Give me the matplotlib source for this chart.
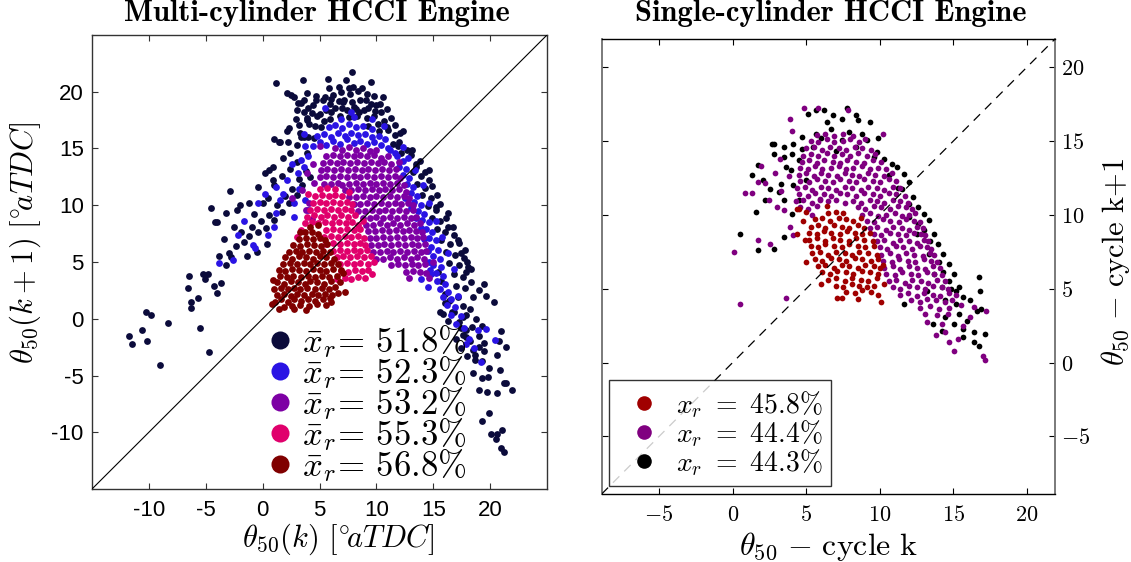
import matplotlib
matplotlib.use('Agg')
import matplotlib.pyplot as plt
from matplotlib.lines import Line2D

plt.rcParams['mathtext.fontset'] = 'cm'
plt.rcParams['lines.scale_dashes'] = False

# ---------------- texts ----------------
left_title = 'Multi-cylinder HCCI Engine'
right_title = 'Single-cylinder HCCI Engine'
left_xlabel = r'$\theta_{50}(k)\ [{}^{\circ}\!aTDC]$'
left_ylabel = r'$\theta_{50}(k+1)\ [{}^{\circ}\!aTDC]$'
right_xlabel = r'$\theta_{50}\ {-}\ \mathrm{cycle\ k}$'
right_ylabel = r'$\theta_{50}\ {-}\ \mathrm{cycle\ k{+}1}$'
left_ticks = [-10, -5, 0, 5, 10, 15, 20]
right_ticks = [-5, 0, 5, 10, 15, 20]
left_names = ['51.8', '52.3', '53.2', '55.3', '56.8']
right_names = ['45.8', '44.4', '44.3']

# ---------------- left panel series (theta50(k), theta50(k+1)) ----------------
L_navy = [
    (2.3,16.8),(2.9,17.6),(3.3,16.4),(3.6,18.2),(4.1,17.2),(4.4,18.8),(4.8,17.9),(5.1,16.9),(5.3,19.3),(5.6,18.4),
    (5.9,17.6),(6.2,19.7),(6.4,18.6),(6.8,17.9),(7.1,19.1),(7.4,18.4),(7.7,19.8),(8.0,18.7),(8.3,17.9),(8.6,19.3),
    (8.9,18.4),(9.2,17.7),(9.5,18.9),(9.8,17.9),(10.1,17.2),(10.4,18.2),(10.7,17.4),(11.0,16.6),(11.3,17.7),(11.6,16.2),
    (12.0,15.6),(12.3,16.5),(12.7,14.9),(4.0,16.0),(3.0,15.3),(2.4,14.6),(1.8,14.2),(3.4,19.0),(6.7,20.4),(8.4,20.1),
    (9.2,19.8),(5.8,20.3),(7.3,21.0),
    (3.6,16.0),(4.5,15.9),(11.5,15.4),(12.2,14.6),(3.2,17.1),(4.6,17.0),(5.4,17.4),(9.3,17.0),(10.2,16.5),(11.9,15.2),
    (3.9,17.7),(5.0,18.0),(6.0,18.2),(7.0,18.6),(7.6,17.8),(8.5,18.2),(9.9,18.3),(10.9,16.9),(3.0,18.4),(4.0,18.6),
    (4.7,19.6),(5.9,18.9),(6.7,19.2),(7.9,19.1),(8.2,18.5),(9.3,18.6),(10.3,18.9),(2.8,19.5),(3.9,19.9),(6.0,19.4),
    (6.9,20.0),(7.6,20.3),(9.8,19.6),(10.6,19.5),
    (13.0,14.4),(13.5,13.6),(13.2,12.9),(13.9,12.6),(13.6,11.9),(14.3,11.5),(14.0,10.9),(14.8,10.6),(14.5,9.9),(15.2,9.6),
    (14.9,8.9),(15.6,8.6),(15.3,7.9),(16.0,7.6),(15.7,6.9),(16.5,6.6),(16.1,5.9),(16.9,5.6),(16.4,4.9),(17.3,4.7),
    (16.8,3.9),(17.6,3.7),(17.0,2.9),(17.8,2.7),(17.2,1.9),(16.4,1.6),(17.6,1.1),(16.8,0.6),(17.9,0.3),(17.3,-0.3),
    (16.3,-0.2),(15.9,0.4),(16.0,2.2),(15.7,3.3),(15.4,4.1),(18.4,-0.7),(17.6,-1.4),(18.2,-2.0),(19.0,-1.5),(18.7,-3.2),
    (19.5,-2.8),(17.9,-1.0),(14.6,12.2),(15.3,10.9),(16.1,8.9),(16.8,7.4),(17.4,5.8),(18.3,4.4),(19.0,2.5),
    (13.8,13.9),(14.3,12.9),(14.9,11.7),(15.6,10.1),(16.3,9.3),(16.7,8.1),(17.2,6.9),(17.8,6.1),(18.0,5.0),(17.9,4.1),
    (18.3,3.2),(18.5,1.9),(18.2,0.9),(18.8,0.0),(19.3,-0.6),(17.0,-1.8),(17.4,-2.6),(18.0,-3.3),
    (-3.0,5.8),(-2.3,6.4),(-1.6,6.8),(-1.9,7.6),(-1.2,7.3),(-0.9,8.1),(-0.4,7.6),(-0.1,8.6),(0.3,8.0),(0.6,9.1),
    (1.0,8.7),(1.3,10.0),(1.7,9.4),(2.0,10.8),(2.3,10.2),(2.6,11.4),(3.0,10.9),(3.2,12.3),(3.5,11.8),(3.8,13.0),
    (4.2,12.5),(0.5,10.6),(1.0,11.8),(1.7,12.6),(2.4,13.2),(3.0,13.8),(3.9,14.6),(-0.8,9.2),(0.0,10.2),(-2.5,8.1),
    (-3.4,7.0),(-1.4,5.5),(-0.5,5.9),(0.4,6.6),(-4.2,8.5),(-2.0,10.0),(0.9,13.4),(2.2,15.6),(1.4,15.6),
    (1.18,20.74),(3.55,21.0),(7.87,21.77),(5.76,21.12),(9.54,20.88),(7.96,20.45),(8.75,20.36),(2.13,19.9),(2.5,19.7),(3.64,19.27),
    (3.08,18.98),(4.65,19.27),(5.44,19.56),(7.18,19.27),(9.07,19.27),(10.0,18.8),(10.96,18.5),(1.03,15.8),(1.5,15.6),(2.13,16.5),
    (3.39,16.0),(3.86,17.5),(4.34,18.1),(11.6,17.07),(12.06,16.33),(13.1,14.9),(14.65,13.1),(13.48,13.4),(0.55,13.1),(0.24,12.8),
    (0.87,12.2),(-0.39,11.6),(-1.18,10.17),(-2.91,11.28),(-4.55,9.72),(-4.02,8.55),(-3.23,9.28),(-2.28,9.58),(-2.76,5.47),(-3.8,5.5),
    (-3.23,4.73),(15.21,9.87),(16.32,8.11),(17.26,6.64),(17.74,5.32),(18.05,4.59),
    (-11.74,-1.49),(-11.49,-2.22),(-10.64,-0.99),(-10.23,0.57),(-9.85,0.33),(-10.16,-1.96),(-9.0,-4.08),(-8.34,-0.40),(-6.54,2.68),(-6.48,3.77),
    (-6.29,1.5),(-6.29,0.98),(-5.69,1.86),(-5.28,3.94),(-5.03,3.47),(-4.81,3.94),(-4.27,2.89),(-4.02,2.3),(-3.7,3.12),(-5.5,-0.79),
    (-4.74,-2.93),(15.62,0.62),(16.63,0.62),(19.47,3.06),(19.63,2.0),(20.35,1.5),(20.98,-1.08),(20.79,-1.93),(21.36,-2.52),(20.57,-3.19),
    (18.46,-4.81),(19.25,-5.25),(19.78,-5.1),(19.94,-4.37),(20.89,-4.52),(21.2,-5.63),(21.36,-5.69),(21.93,-6.28),(19.0,-6.28),(19.69,-6.42),
    (20.57,-6.57),(19.88,-8.33),(19.31,-9.0),(20.04,-10.18),(20.57,-10.18),(20.48,-10.62),(21.05,-9.8),(20.98,-11.42),(21.2,-11.71),(17.42,-0.84),
    (17.89,-1.58),(18.46,-2.75),(18.99,-2.46),(19.47,-2.11),(18.68,-3.63),(19.31,-3.69),(17.58,0.18),(16.0,1.36),(16.47,1.65),
]

L_blue = [
    (4.4,15.2),(5.0,15.6),(5.6,15.3),(6.2,15.7),(6.8,15.4),(7.4,15.8),(8.0,15.5),(8.6,15.7),(9.2,15.4),(9.8,15.6),
    (10.4,15.3),(11.0,15.0),(4.8,16.1),(5.4,16.3),(6.0,16.0),(6.6,16.4),(7.2,16.1),(7.8,16.4),(8.4,16.2),(9.0,16.3),
    (9.6,16.0),(10.2,16.1),(10.8,15.8),(5.8,16.9),(6.4,17.1),(7.0,16.8),(7.6,17.2),(8.2,16.9),(8.8,17.0),(9.6,16.7),
    (6.9,17.6),(8.0,17.8),(11.6,14.6),(11.2,14.9),
    (11.8,14.3),(12.3,13.9),(12.0,13.4),(12.6,13.2),(12.3,12.7),(12.9,12.4),(12.7,11.9),(13.2,11.6),(13.0,11.1),(13.6,10.8),
    (13.3,10.3),(13.9,10.0),(13.7,9.5),(14.2,9.2),(14.0,8.7),(14.6,8.5),(14.4,7.9),(14.9,7.6),(14.6,7.1),(15.2,6.9),
    (14.8,6.3),(15.4,6.1),(15.0,5.5),(15.6,5.3),(15.0,4.7),(15.7,4.6),(15.2,4.0),(15.9,3.8),(15.3,3.3),(16.0,3.1),
    (15.6,2.6),(16.3,2.4),(15.9,1.9),(16.6,1.7),(16.2,1.2),(16.9,1.0),(17.2,2.0),(16.6,0.3),(17.4,0.2),(17.0,-0.5),
    (17.7,-0.8),(16.8,4.4),(16.3,5.8),(15.8,7.2),(15.2,8.6),(14.6,10.2),(14.1,11.8),(13.4,13.1),(12.8,14.2),(13.9,3.5),
    (14.5,2.8),(14.8,3.9),(12.5,10.6),(13.0,9.8),(13.5,8.9),(13.9,8.0),(14.2,7.0),(14.5,6.0),(14.6,5.0),(14.7,4.3),
    (18.1,-1.8),(18.6,-2.6),(19.2,-3.8),(20.4,-1.9),(18.9,-1.0),(17.9,-2.2),(19.6,-0.9),
    (-3.8,4.9),(-2.6,5.2),(-0.86,6.5),(-0.7,6.2),(0.5,7.4),(1.0,8.1),(1.2,9.3),(2.8,9.0),(2.8,10.2),(3.7,10.5),
    (1.2,11.6),(1.8,11.0),(2.1,12.2),(3.1,12.8),(3.6,13.4),(3.7,15.2),(4.0,14.3),(0.2,11.0),(1.5,10.5),(-0.4,10.2),
    (-1.6,8.6),(-2.2,7.4),(3.4,14.0),(2.6,13.6),(4.0,9.6),(3.2,11.4),
    (5.5,18.6),(7.8,18.2),(9.6,17.6),(10.7,17.0),(12.3,15.1),(3.6,16.3),
]

L_purple = [
    (6.4,15.0),(7.0,14.9),(7.6,15.1),(8.2,14.9),(8.8,15.0),(9.4,14.8),(10.0,14.9),
    (5.6,14.3),(6.2,14.4),(6.8,14.3),(7.4,14.4),(8.0,14.3),(8.6,14.4),(9.2,14.3),(9.8,14.4),(10.4,14.2),(11.0,14.3),
    (5.3,13.7),(5.9,13.8),(6.5,13.7),(7.1,13.8),(7.7,13.7),(8.3,13.8),(8.9,13.7),(9.5,13.8),(10.1,13.7),(10.7,13.8),(11.3,13.6),
    (5.1,13.1),(5.7,13.2),(6.3,13.1),(6.9,13.2),(7.5,13.1),(8.1,13.2),(8.7,13.1),(9.3,13.2),(9.9,13.1),(10.5,13.2),(11.1,13.1),(11.7,13.2),
    (5.0,12.5),(5.6,12.6),(6.2,12.5),(6.8,12.6),(7.4,12.5),(8.0,12.6),(8.6,12.5),(9.2,12.6),(9.8,12.5),(10.4,12.6),(11.0,12.5),(11.6,12.6),(12.1,12.4),
    (5.4,11.9),(6.0,11.9),(6.6,12.0),(7.0,11.8),(7.6,11.9),(8.2,12.0),(8.8,11.9),(9.4,12.0),(10.0,11.9),(10.6,12.0),(11.2,11.9),(11.8,12.0),(12.4,11.8),
    (7.2,11.3),(7.8,11.3),(8.4,11.4),(9.0,11.3),(9.6,11.4),(10.2,11.3),(10.8,11.4),(11.4,11.3),(12.0,11.4),(12.6,11.2),
    (7.6,10.7),(8.2,10.7),(8.8,10.8),(9.4,10.7),(10.0,10.8),(10.6,10.7),(11.2,10.8),(11.8,10.7),(12.4,10.8),(12.9,10.6),
    (8.0,10.1),(8.6,10.1),(9.2,10.2),(9.8,10.1),(10.4,10.2),(11.0,10.1),(11.6,10.2),(12.2,10.1),(12.8,10.2),(13.2,10.0),
    (8.4,9.5),(9.0,9.5),(9.6,9.6),(10.2,9.5),(10.8,9.6),(11.4,9.5),(12.0,9.6),(12.6,9.5),(13.2,9.6),
    (8.8,8.9),(9.4,8.9),(10.0,9.0),(10.6,8.9),(11.2,9.0),(11.8,8.9),(12.4,9.0),(13.0,8.9),(13.5,9.0),
    (9.1,8.3),(9.7,8.3),(10.3,8.4),(10.9,8.3),(11.5,8.4),(12.1,8.3),(12.7,8.4),(13.3,8.3),(13.8,8.4),
    (9.3,7.7),(9.9,7.7),(10.5,7.8),(11.1,7.7),(11.7,7.8),(12.3,7.7),(12.9,7.8),(13.5,7.7),(14.0,7.6),
    (9.4,7.1),(10.0,7.1),(10.6,7.2),(11.2,7.1),(11.8,7.2),(12.4,7.1),(13.0,7.2),(13.6,7.1),(14.1,7.2),
    (9.5,6.5),(10.1,6.5),(10.7,6.6),(11.3,6.5),(11.9,6.6),(12.5,6.5),(13.1,6.6),(13.7,6.5),(14.3,6.6),
    (9.7,5.9),(10.3,5.9),(10.9,6.0),(11.5,5.9),(12.1,6.0),(12.7,5.9),(13.3,6.0),(13.9,5.9),(14.4,6.0),
    (10.0,5.3),(10.6,5.3),(11.2,5.4),(11.8,5.3),(12.4,5.4),(13.0,5.3),(13.6,5.4),(14.2,5.3),
    (11.3,4.7),(11.9,4.8),(12.5,4.7),(13.1,4.8),(13.7,4.7),(14.3,4.8),
    (12.6,4.1),(13.2,4.2),(13.8,4.1),(14.4,4.0),
    (3.8,9.6),(4.1,10.2),(4.3,8.8),(3.5,11.3),(4.5,12.0),(3.9,12.8),(4.4,13.6),(2.6,10.6),(12.9,3.6),(14.6,3.6),
    (15.0,5.0),(12.0,13.8),(5.0,15.2),
]

L_pink = [
    (7.2,3.6),(7.8,3.5),(8.4,3.7),(9.0,3.6),
    (6.9,4.2),(7.5,4.1),(8.1,4.3),(8.7,4.2),(9.3,4.3),
    (6.8,4.8),(7.4,4.9),(8.0,4.8),(8.6,4.9),(9.3,4.8),
    (6.5,5.4),(7.1,5.5),(7.7,5.4),(8.3,5.5),(8.9,5.4),(9.5,5.5),
    (6.2,6.0),(6.8,6.1),(7.4,6.0),(8.0,6.1),(8.6,6.0),(9.2,6.1),
    (5.6,6.6),(6.2,6.7),(6.8,6.6),(7.4,6.7),(8.0,6.6),(8.6,6.7),(9.0,6.5),
    (5.4,7.2),(6.0,7.3),(6.6,7.2),(7.2,7.3),(7.8,7.2),(8.4,7.3),(8.9,7.1),
    (3.4,7.8),(5.6,7.8),(6.2,7.9),(6.8,7.8),(7.4,7.9),(8.0,7.8),(8.6,7.9),
    (3.7,8.4),(4.3,8.5),(4.9,8.4),(5.5,8.5),(6.1,8.4),(6.7,8.5),(7.3,8.4),(7.9,8.5),(8.4,8.3),
    (3.9,9.0),(4.5,9.1),(5.1,9.0),(5.7,9.1),(6.3,9.0),(6.9,9.1),(7.5,9.0),(8.1,9.1),
    (4.2,9.6),(4.8,9.7),(5.4,9.6),(6.0,9.7),(6.6,9.6),(7.2,9.7),(7.8,9.6),
    (4.4,10.2),(5.0,10.3),(5.6,10.2),(6.2,10.3),(6.8,10.2),(7.4,10.3),(7.9,10.1),
    (4.6,10.8),(5.2,10.9),(5.8,10.8),(6.4,10.9),(7.0,10.8),
    (5.0,11.4),(5.7,11.5),(6.4,11.4),
    (3.0,7.2),(9.8,5.0),(9.6,3.9),(6.5,3.5),(4.0,11.0),(7.6,11.2),(8.8,8.6),
]

L_red = [
    (1.9,1.0),(2.6,1.1),(3.3,1.2),(4.1,1.1),(4.8,1.3),
    (1.1,1.5),(1.6,1.7),(2.2,1.5),(2.8,1.7),(3.4,1.6),(4.0,1.7),(4.6,1.6),(5.3,1.7),(5.9,1.8),
    (1.3,2.1),(1.9,2.2),(2.5,2.0),(3.0,2.2),(3.6,2.1),(4.3,2.2),(4.9,2.1),(5.5,2.2),(6.1,2.1),(6.6,2.3),
    (1.0,2.6),(1.6,2.7),(2.2,2.6),(2.8,2.7),(3.3,2.6),(3.9,2.7),(4.6,2.6),(5.2,2.7),(5.8,2.6),(6.4,2.8),
    (1.3,3.2),(1.9,3.1),(2.5,3.3),(3.1,3.2),(3.7,3.1),(4.2,3.3),(4.8,3.2),(5.4,3.1),(6.0,3.3),(6.8,3.2),
    (1.5,3.8),(2.1,3.7),(2.7,3.8),(3.4,3.7),(4.0,3.8),(4.6,3.7),(5.2,3.8),(5.8,3.7),(6.5,3.8),
    (1.4,4.3),(2.0,4.2),(2.6,4.4),(3.2,4.3),(3.8,4.2),(4.4,4.4),(5.0,4.3),(5.6,4.2),(6.2,4.4),(6.9,4.3),
    (1.8,4.8),(2.4,4.9),(3.0,4.8),(3.6,4.9),(4.2,4.8),(4.8,4.9),(5.4,4.8),(6.0,4.9),(6.6,4.8),
    (2.0,5.4),(2.6,5.3),(3.2,5.5),(3.8,5.4),(4.4,5.3),(5.0,5.5),(5.6,5.4),(6.3,5.3),
    (2.3,5.9),(2.9,6.0),(3.5,5.9),(4.1,6.0),(4.7,5.9),(5.3,6.0),(5.9,5.9),
    (2.7,6.5),(3.3,6.4),(3.9,6.6),(4.5,6.5),(5.1,6.4),(5.7,6.6),
    (3.2,7.0),(3.8,7.1),(4.4,7.0),(5.0,7.1),(5.5,6.9),
    (3.7,7.6),(4.3,7.6),(4.9,7.5),(4.2,8.1),
    (0.8,1.3),(0.9,3.4),(7.2,2.4),(7.1,4.0),(5.6,1.2),(1.4,0.9),(3.8,0.8),(6.0,1.5),(2.8,0.9),(4.9,8.3),(3.3,7.6),
]

# ---------------- right panel series ----------------
R_black = [
    (5.09,16.85),(5.69,17.08),(6.23,17.12),(6.79,16.74),(7.4,16.51),(8.37,16.74),(8.49,16.4),(9.34,16.29),(7.88,15.61),(6.67,15.84),
    (5.69,15.5),(4.72,15.27),(4.11,14.82),(3.51,14.6),(2.66,14.82),(2.78,14.14),(3.51,13.92),(3.63,13.24),(3.99,13.01),(4.48,13.69),
    (5.45,14.6),(7.4,15.05),(8.37,14.6),(9.1,15.05),(9.82,14.25),(10.31,13.8),(10.8,13.46),(11.16,13.24),(11.65,12.79),(12.01,12.22),
    (11.52,11.77),(12.25,11.2),(12.62,10.53),(12.98,10.08),(13.35,9.62),(12.98,8.95),(13.71,8.72),(13.95,8.05),(14.32,7.37),(14.68,6.69),
    (14.32,6.12),(15.05,6.01),(16.75,5.79),(13.35,7.37),(12.5,8.72),(12.01,9.85),
    (13.71,6.0),(14.68,5.55),(15.41,5.1),(15.65,4.42),(15.17,3.97),(16.14,4.2),(16.63,3.52),(16.87,3.63),(15.41,3.29),(15.05,2.62),
    (15.9,2.84),(15.65,2.28),(16.38,2.05),(15.65,1.71),(17.11,1.94),(16.38,1.37),(16.75,1.15),(14.44,3.07),(13.59,2.62),(14.2,2.16),
    (11.65,3.97),(13.23,4.87),(14.2,5.1),(14.44,4.2),(16.82,4.87),(15.17,4.87),
    (1.32,12.67),(1.69,13.35),(2.05,12.33),(2.54,11.77),(3.14,11.54),(3.51,10.98),(2.17,10.98),(1.56,10.19),(0.47,8.72),(1.73,7.59),
    (2.78,7.7),(3.51,8.5),(4.0,10.08),(4.48,10.98),(3.26,12.11),(4.11,12.0),(4.96,12.33),(2.78,14.82),(4.0,14.14),(4.72,14.48),
    (6.0,15.2),(7.0,14.3),(8.8,15.5),(9.6,13.9),(10.6,12.7),(11.2,11.8),(12.0,10.7),(12.6,9.4),(13.4,8.2),(14.0,6.8),
    (14.8,5.0),(7.8,17.2),(6.4,16.3),(9.9,15.2),
]

R_purple = [
    (5.7,15.4),(6.3,15.5),(6.9,15.3),(7.5,15.5),(8.2,15.3),
    (5.3,15.0),(5.8,14.9),(6.4,15.1),(6.9,14.9),(7.5,15.0),(8.0,15.1),(8.6,14.9),(9.0,15.1),
    (5.0,14.5),(5.5,14.6),(6.1,14.4),(6.6,14.6),(7.2,14.5),(7.7,14.4),(8.3,14.6),(8.8,14.5),(9.4,14.4),
    (4.8,14.0),(5.3,14.1),(5.8,14.0),(6.4,14.2),(6.9,14.0),(7.4,14.1),(8.0,14.0),(8.5,14.2),(9.1,14.0),(9.7,14.1),
    (4.7,13.6),(5.2,13.7),(5.7,13.5),(6.2,13.7),(6.8,13.6),(7.3,13.5),(7.8,13.7),(8.4,13.6),(8.9,13.5),(9.5,13.7),(10.1,13.6),
    (4.6,13.2),(5.1,13.1),(5.6,13.3),(6.1,13.1),(6.7,13.2),(7.2,13.3),(7.7,13.1),(8.2,13.2),(8.8,13.3),(9.3,13.1),(9.9,13.2),(10.4,13.1),
    (4.5,12.7),(5.0,12.8),(5.5,12.6),(6.0,12.8),(6.5,12.7),(7.1,12.6),(7.6,12.8),(8.1,12.7),(8.6,12.6),(9.2,12.8),(9.7,12.7),(10.3,12.6),(10.8,12.8),
    (4.6,12.3),(5.2,12.2),(5.7,12.4),(6.3,12.3),(6.8,12.2),(7.3,12.4),(7.9,12.3),(8.4,12.2),(8.9,12.4),(9.5,12.3),(10.0,12.2),(10.6,12.4),(11.1,12.3),
    (4.4,11.8),(4.9,11.9),(5.4,11.7),(6.0,11.9),(6.5,11.8),(7.0,11.7),(7.6,11.9),(8.1,11.8),(8.7,11.7),(9.2,11.9),(9.8,11.8),(10.3,11.7),(10.9,11.9),(11.4,11.8),
    (4.5,11.4),(5.1,11.3),(5.6,11.5),(6.2,11.4),(6.7,11.3),(7.3,11.5),(7.8,11.4),(8.4,11.3),(8.9,11.5),(9.5,11.4),(10.0,11.3),(10.6,11.5),(11.1,11.4),(11.7,11.3),
    (4.3,10.9),(4.8,11.0),(5.4,10.8),(5.9,11.0),(6.5,10.9),(7.0,11.0),(7.6,10.8),(8.2,10.9),(8.7,10.8),(9.3,11.0),(9.8,10.9),(10.3,10.8),(10.9,11.0),(11.4,10.9),(11.9,10.8),
    (4.6,10.5),(5.1,10.4),(5.7,10.6),(8.5,10.5),(9.0,10.4),(9.6,10.6),(10.1,10.5),(10.7,10.4),(11.2,10.6),(11.8,10.5),(12.2,10.4),
    (5.4,10.0),(8.8,10.0),(9.3,10.1),(9.9,9.9),(10.4,10.0),(11.0,10.1),(11.5,9.9),(12.0,10.0),(12.4,10.1),
    (9.1,9.6),(9.6,9.5),(10.2,9.7),(10.7,9.6),(11.3,9.5),(11.8,9.7),(12.3,9.6),(12.7,9.5),
    (9.3,9.1),(9.8,9.2),(10.4,9.0),(10.9,9.2),(11.5,9.1),(12.0,9.0),(12.5,9.2),(12.9,9.1),
    (9.6,8.7),(10.1,8.6),(10.7,8.8),(11.2,8.7),(11.8,8.6),(12.3,8.8),(12.8,8.7),(13.1,8.6),
    (9.8,8.2),(10.3,8.3),(10.9,8.1),(11.4,8.3),(12.0,8.2),(12.5,8.1),(13.0,8.3),(13.3,8.2),
    (10.0,7.8),(10.5,7.7),(11.1,7.9),(11.6,7.8),(12.2,7.7),(12.7,7.9),(13.2,7.8),(13.5,7.7),
    (10.1,7.3),(10.7,7.4),(11.2,7.2),(11.8,7.4),(12.3,7.3),(12.9,7.2),(13.4,7.4),(13.7,7.3),
    (10.2,6.9),(10.8,6.8),(11.3,7.0),(11.9,6.9),(12.4,6.8),(13.0,7.0),(13.5,6.9),(13.9,6.8),
    (10.3,6.4),(10.9,6.5),(11.4,6.3),(12.0,6.5),(12.5,6.4),(13.1,6.3),(13.6,6.5),(14.1,6.4),
    (10.4,6.0),(11.0,5.9),(11.5,6.1),(12.1,6.0),(12.6,5.9),(13.2,6.1),(13.7,6.0),(14.2,5.9),
    (10.6,5.5),(11.1,5.6),(11.7,5.4),(12.2,5.6),(12.8,5.5),(13.3,5.4),(13.9,5.6),(14.4,5.5),
    (10.9,5.1),(11.4,5.0),(12.0,5.2),(12.5,5.1),(13.1,5.0),(13.6,5.2),(14.2,5.1),(14.6,5.0),
    (11.4,4.6),(11.9,4.7),(12.5,4.5),(13.0,4.7),(13.6,4.6),(14.1,4.5),(14.7,4.7),
    (12.1,4.2),(12.7,4.1),(13.2,4.3),(13.8,4.2),(14.4,4.1),(14.9,4.2),
    (12.7,3.7),(13.4,3.8),(14.0,3.6),(14.7,3.7),
    (13.1,3.3),(13.9,3.2),(14.6,3.3),
    (13.23,2.73),(13.83,1.83),(14.44,2.05),(14.68,1.37),(15.05,0.81),(17.0,0.47),(17.11,0.18),(17.23,3.52),(15.65,2.5),(16.14,3.07),
    (16.38,3.75),(15.2,4.6),(15.5,3.9),(14.2,2.6),(15.3,1.6),
    (0.11,7.5),(0.83,11.5),(1.32,11.5),(1.69,12.2),(1.93,13.3),(2.17,12.15),(2.53,8.05),(1.69,8.27),(2.9,12.8),(3.02,10.5),
    (3.5,10.3),(3.92,16.5),(4.0,15.7),(4.84,17.2),(5.8,17.2),(7.83,17.1),(10.2,15.5),(5.94,11.1),(0.47,3.93),(3.63,4.36),
    (3.3,11.6),(3.8,12.6),(2.5,11.0),(3.9,9.2),(4.1,8.6),(3.2,13.8),
]

R_red = [
    (6.5,10.1),(7.0,10.2),(7.5,10.1),
    (5.6,9.7),(6.1,9.8),(6.6,9.6),(7.2,9.8),(7.7,9.7),(8.2,9.6),
    (5.3,9.2),(5.8,9.3),(6.3,9.1),(6.9,9.3),(7.4,9.2),(7.9,9.1),(8.5,9.3),(8.9,9.1),
    (5.2,8.8),(5.7,8.7),(6.2,8.9),(6.7,8.8),(7.3,8.7),(7.8,8.9),(8.3,8.8),(8.8,8.7),(9.3,8.8),
    (5.2,8.3),(5.7,8.4),(6.3,8.2),(6.8,8.4),(7.3,8.3),(7.9,8.2),(8.4,8.4),(8.9,8.3),(9.5,8.2),
    (5.3,7.9),(5.8,7.8),(6.3,8.0),(6.9,7.9),(7.4,7.8),(7.9,8.0),(8.5,7.9),(9.0,7.8),(9.6,7.9),
    (5.4,7.4),(5.9,7.5),(6.5,7.3),(7.0,7.5),(7.6,7.4),(8.1,7.3),(8.6,7.5),(9.2,7.4),(9.8,7.3),
    (5.6,7.0),(6.1,6.9),(6.7,7.1),(7.2,7.0),(7.7,6.9),(8.3,7.1),(8.8,7.0),(9.4,6.9),(9.9,7.0),
    (5.8,6.5),(6.3,6.6),(6.9,6.4),(7.4,6.6),(7.9,6.5),(8.5,6.4),(9.0,6.6),(9.6,6.5),(10.0,6.4),
    (6.1,6.1),(6.6,6.0),(7.1,6.2),(7.7,6.1),(8.2,6.0),(8.8,6.2),(9.3,6.1),(9.9,6.0),
    (6.5,5.6),(7.0,5.7),(7.6,5.5),(8.1,5.7),(8.7,5.6),(9.2,5.5),(9.8,5.7),
    (7.0,5.2),(7.5,5.1),(8.1,5.3),(8.6,5.2),(9.1,5.1),(9.6,5.2),
    (7.7,4.8),(8.3,4.7),(8.8,4.9),(9.4,4.8),
    (4.36,10.4),(4.5,10.4),(4.4,8.7),(4.8,9.6),(4.9,8.3),(5.0,10.2),(7.1,4.4),(10.1,4.1),(9.9,4.6),(10.3,5.3),
    (6.4,10.6),(8.7,9.8),(7.4,4.4),(8.5,4.3),(10.2,6.6),(6.0,5.3),(5.0,6.8),
]

left_series = [L_navy, L_blue, L_purple, L_pink, L_red]
left_colors = ['#0b0b3b', '#2a14e4', '#7d00a4', '#e0006c', '#800000']
right_colors = ['#a00000', '#800080', '#000000']

W, H = 1131, 562
fig = plt.figure(figsize=(W / 100, H / 100), dpi=100)

# ---------------- left axes ----------------
axL = fig.add_axes([92 / W, (H - 489) / H, 455 / W, 454 / H])
for pts, c in zip(left_series, left_colors):
    xs = [p[0] for p in pts]
    ys = [p[1] for p in pts]
    axL.scatter(xs, ys, s=24, color=c, linewidths=0, zorder=2)
axL.plot([-15, 25], [-15, 25], color='black', lw=0.8, zorder=3)
axL.set_xlim(-15, 25)
axL.set_ylim(-15, 25)
axL.set_xticks(left_ticks)
axL.set_yticks(left_ticks)
axL.set_xticklabels([str(t) for t in left_ticks], family='Liberation Sans', fontsize=16)
axL.set_yticklabels([str(t) for t in left_ticks], family='Liberation Sans', fontsize=16)
axL.tick_params(direction='in', top=True, right=True, length=4, width=0.8, color='#333333')
axL.tick_params(axis='x', pad=8)
axL.tick_params(axis='y', pad=6)
for sp in axL.spines.values():
    sp.set_color('#333333')
    sp.set_linewidth(1.0)
axL.set_xlabel(left_xlabel, fontsize=22)
axL.xaxis.set_label_coords(0.541, -0.072)
axL.xaxis.label.set_va('top')
axL.set_ylabel(left_ylabel, fontsize=22)
axL.yaxis.set_label_coords(-0.108, 0.542)
axL.text(0.495, 1.048, left_title, transform=axL.transAxes, ha='center', va='center',
         family='cmb10', fontsize=22)
hL = [Line2D([], [], ls='', marker='o', markersize=13, markerfacecolor=c, markeredgewidth=0)
      for c in left_colors]
labL = [r'$\bar{x}_r\!=\,' + n + r'\%$' for n in left_names]
axL.legend(hL, labL, loc='upper left', bbox_to_anchor=(0.382, 0.365), frameon=False,
           fontsize=25, borderpad=0, borderaxespad=0, handlelength=0.8, handletextpad=0.25,
           labelspacing=-0.17)

# ---------------- right axes ----------------
axR = fig.add_axes([601.7 / W, (H - 494) / H, 453.3 / W, 455 / H])
for pts, c in zip([R_black, R_purple, R_red], ['#000000', '#800080', '#a00000']):
    xs = [p[0] for p in pts]
    ys = [p[1] for p in pts]
    axR.scatter(xs, ys, s=17, color=c, linewidths=0, zorder=2)
lim = (-8.9, 21.9)
axR.plot(lim, lim, color='black', lw=0.9, dashes=(6.5, 5.0), zorder=3)
axR.set_xlim(*lim)
axR.set_ylim(*lim)
axR.set_xticks(right_ticks)
axR.set_yticks(right_ticks)
axR.set_xticklabels(['$%d$' % t for t in right_ticks], fontsize=16)
axR.set_yticklabels(['$%d$' % t for t in right_ticks], fontsize=16)
axR.tick_params(direction='in', top=True, bottom=True, left=True, right=True,
                labelleft=False, labelright=True, length=4, width=0.8)
axR.tick_params(axis='x', pad=8)
axR.tick_params(axis='y', pad=4)
for side in ['left', 'right']:
    axR.spines[side].set_color('#707070')
    axR.spines[side].set_linewidth(1.3)
for side in ['top', 'bottom']:
    axR.spines[side].set_color('black')
    axR.spines[side].set_linewidth(1.0)
axR.set_xlabel(right_xlabel, fontsize=23)
axR.xaxis.set_label_coords(0.5, -0.079)
axR.xaxis.label.set_va('top')
axR.yaxis.set_label_position('right')
axR.set_ylabel(right_ylabel, fontsize=22)
axR.yaxis.set_label_coords(1.098, 0.51)
axR.text(0.506, 1.057, right_title, transform=axR.transAxes, ha='center', va='center',
         family='cmb10', fontsize=22)
hR = [Line2D([], [], ls='', marker='o', markersize=10.5, markerfacecolor=c, markeredgewidth=0)
      for c in right_colors]
labR = [r'$x_r\ =\ ' + n + r'\%$' for n in right_names]
legR = axR.legend(hR, labR, loc='lower left', bbox_to_anchor=(0.016, 0.0176), frameon=True,
                  fancybox=False, edgecolor='black', fontsize=20, borderpad=0.3,
                  borderaxespad=0, handlelength=1.9, handletextpad=0.2, labelspacing=-0.06)
legR.get_frame().set_linewidth(1.0)
legR.set_zorder(5)

fig.savefig('out.png', dpi=100)
